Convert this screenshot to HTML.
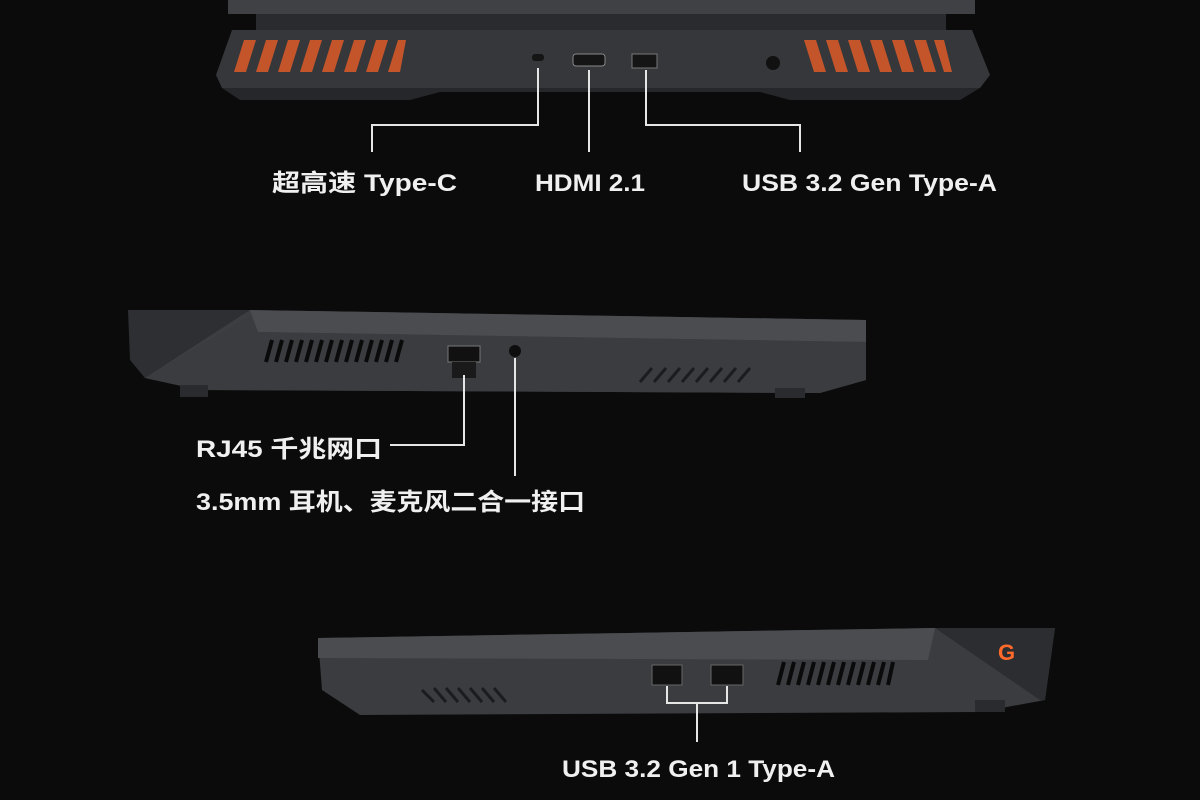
<!DOCTYPE html>
<html><head><meta charset="utf-8"><style>
html,body{margin:0;padding:0;background:#0b0b0b;width:1200px;height:800px;overflow:hidden}
svg{display:block}
text{font-family:"Liberation Sans","Noto Sans CJK SC",sans-serif;fill:#f0f0f0;font-size:24px;font-weight:bold}
</style></head><body>
<svg width="1200" height="800" viewBox="0 0 1200 800">
<rect width="1200" height="800" fill="#0b0b0b"/>
<!-- top laptop -->
<rect x="228" y="0" width="747" height="14" fill="#3f4145"/>
<rect x="256" y="14" width="690" height="18" fill="#2a2b2e"/>
<polygon points="232,30 972,30 990,75 980,88 222,88 216,75" fill="#35373b"/>
<polygon points="222,88 980,88 960,100 790,100 760,92 440,92 410,100 240,100" fill="#26272a"/>
<g fill="#c4552a">
<polygon points="244,40 256,40 246,72 234,72"/><polygon points="266,40 278,40 268,72 256,72"/>
<polygon points="288,40 300,40 290,72 278,72"/><polygon points="310,40 322,40 312,72 300,72"/>
<polygon points="332,40 344,40 334,72 322,72"/><polygon points="354,40 366,40 356,72 344,72"/>
<polygon points="376,40 388,40 378,72 366,72"/><polygon points="398,40 406,40 400,72 388,72"/>
<polygon points="804,40 816,40 826,72 814,72"/><polygon points="826,40 838,40 848,72 836,72"/>
<polygon points="848,40 860,40 870,72 858,72"/><polygon points="870,40 882,40 892,72 880,72"/>
<polygon points="892,40 904,40 914,72 902,72"/><polygon points="914,40 926,40 936,72 924,72"/>
<polygon points="934,40 944,40 952,72 944,72"/>
</g>
<rect x="532" y="54" width="12" height="7" rx="3" fill="#151515"/>
<rect x="573" y="54" width="32" height="12" rx="3" fill="#151515" stroke="#888" stroke-width="1"/>
<rect x="632" y="54" width="25" height="14" fill="#151515" stroke="#777" stroke-width="1"/>
<circle cx="773" cy="63" r="7" fill="#111"/>
<g fill="none" stroke="#e6e6e6" stroke-width="2">
<polyline points="538,68 538,125 372,125 372,152"/>
<line x1="589" y1="70" x2="589" y2="152"/>
<polyline points="646,70 646,125 800,125 800,152"/>
</g>
<text x="272" y="191" textLength="185" lengthAdjust="spacingAndGlyphs">超高速 Type-C</text>
<text x="535" y="191" textLength="110" lengthAdjust="spacingAndGlyphs">HDMI 2.1</text>
<text x="742" y="191" textLength="255" lengthAdjust="spacingAndGlyphs">USB 3.2 Gen Type-A</text>
<!-- middle laptop -->
<polygon points="128,310 250,310 866,320 866,380 820,393 200,390 145,378" fill="#3c3e42"/>
<polygon points="250,310 866,320 866,342 258,332" fill="#4a4c50"/>
<polygon points="128,310 250,310 145,378 130,360" fill="#2e2f33"/>
<polygon points="145,378 250,316 258,332 866,342 866,380 820,393 200,390" fill="#3a3c40"/>
<g stroke="#0a0a0a" stroke-width="4">
<line x1="266" y1="362" x2="272" y2="340"/><line x1="276" y1="362" x2="282" y2="340"/><line x1="286" y1="362" x2="292" y2="340"/><line x1="296" y1="362" x2="302" y2="340"/><line x1="306" y1="362" x2="312" y2="340"/><line x1="316" y1="362" x2="322" y2="340"/><line x1="326" y1="362" x2="332" y2="340"/><line x1="336" y1="362" x2="342" y2="340"/><line x1="346" y1="362" x2="352" y2="340"/><line x1="356" y1="362" x2="362" y2="340"/><line x1="366" y1="362" x2="372" y2="340"/><line x1="376" y1="362" x2="382" y2="340"/><line x1="386" y1="362" x2="392" y2="340"/><line x1="396" y1="362" x2="402" y2="340"/>
</g>
<g stroke="#1c1c1e" stroke-width="3">
<line x1="640" y1="382" x2="652" y2="368"/><line x1="654" y1="382" x2="666" y2="368"/><line x1="668" y1="382" x2="680" y2="368"/><line x1="682" y1="382" x2="694" y2="368"/><line x1="696" y1="382" x2="708" y2="368"/><line x1="710" y1="382" x2="722" y2="368"/><line x1="724" y1="382" x2="736" y2="368"/><line x1="738" y1="382" x2="750" y2="368"/>
</g>
<rect x="448" y="346" width="32" height="16" fill="#111" stroke="#777"/>
<rect x="452" y="362" width="24" height="16" fill="#1a1a1a"/>
<circle cx="515" cy="351" r="6" fill="#0e0e0e"/>
<rect x="180" y="385" width="28" height="12" fill="#2a2b2e"/>
<rect x="775" y="388" width="30" height="10" fill="#2a2b2e"/>
<g fill="none" stroke="#e6e6e6" stroke-width="2">
<polyline points="464,375 464,445 390,445"/>
<line x1="515" y1="358" x2="515" y2="476"/>
</g>
<text x="196" y="457" textLength="186" lengthAdjust="spacingAndGlyphs">RJ45 千兆网口</text>
<text x="196" y="510" textLength="389" lengthAdjust="spacingAndGlyphs">3.5mm 耳机、麦克风二合一接口</text>
<!-- bottom laptop -->
<polygon points="318,638 935,628 1055,628 1045,700 980,712 360,715 322,690" fill="#3a3c40"/>
<polygon points="318,638 935,628 928,660 318,658" fill="#4a4c50"/>
<polygon points="935,628 1055,628 1045,700 1040,700" fill="#2c2d31"/>
<text x="998" y="660" style="fill:#ff6a2a;font-size:22px">G</text>
<g stroke="#0a0a0a" stroke-width="4">
<line x1="778" y1="685" x2="784" y2="662"/><line x1="788" y1="685" x2="794" y2="662"/><line x1="798" y1="685" x2="804" y2="662"/><line x1="808" y1="685" x2="814" y2="662"/><line x1="818" y1="685" x2="824" y2="662"/><line x1="828" y1="685" x2="834" y2="662"/><line x1="838" y1="685" x2="844" y2="662"/><line x1="848" y1="685" x2="854" y2="662"/><line x1="858" y1="685" x2="864" y2="662"/><line x1="868" y1="685" x2="874" y2="662"/><line x1="878" y1="685" x2="884" y2="662"/><line x1="888" y1="685" x2="893" y2="662"/>
</g>
<g stroke="#1c1c1e" stroke-width="3">
<line x1="422" y1="690" x2="434" y2="702"/><line x1="434" y1="688" x2="446" y2="702"/><line x1="446" y1="688" x2="458" y2="702"/><line x1="458" y1="688" x2="470" y2="702"/><line x1="470" y1="688" x2="482" y2="702"/><line x1="482" y1="688" x2="494" y2="702"/><line x1="494" y1="688" x2="506" y2="702"/>
</g>
<rect x="652" y="665" width="30" height="20" fill="#111" stroke="#666"/>
<rect x="711" y="665" width="32" height="20" fill="#111" stroke="#666"/>
<rect x="975" y="700" width="30" height="12" fill="#2a2b2e"/>
<g fill="none" stroke="#e6e6e6" stroke-width="2">
<polyline points="667,686 667,703 727,703 727,686"/>
<line x1="697" y1="703" x2="697" y2="742"/>
</g>
<text x="562" y="777" textLength="273" lengthAdjust="spacingAndGlyphs">USB 3.2 Gen 1 Type-A</text>
</svg>
</body></html>
